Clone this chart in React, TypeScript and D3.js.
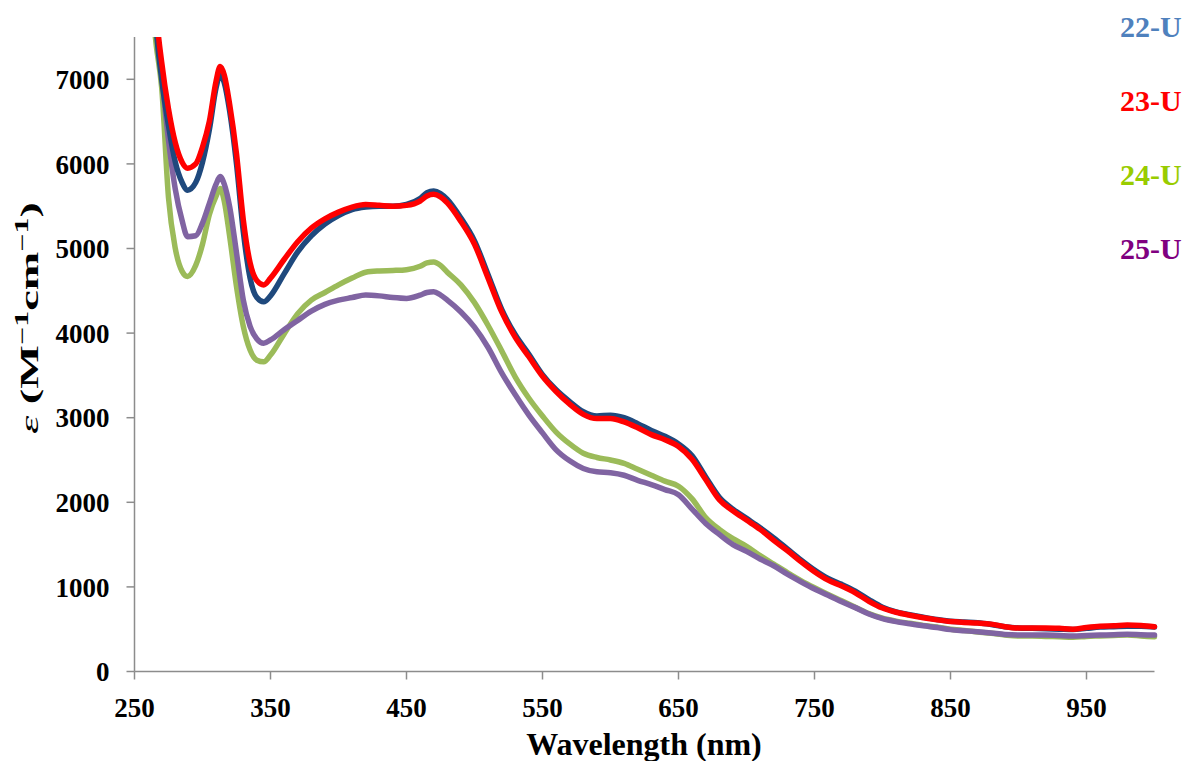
import React from "react";
import * as d3 from "d3";

// ---------- data ----------
const wavelengths = [
  262, 266, 270, 275, 280, 285, 289, 295, 300, 305, 310, 313, 316, 320, 325, 330, 335, 340, 345, 350,
  360, 370, 380, 390, 400, 410, 420, 430, 440, 450, 460,
  465, 470, 475,
  480, 490, 500, 510, 520, 530, 540, 550, 560, 570, 580, 590, 600, 610, 620, 630, 640, 650, 660, 670,
  680, 690, 700, 710, 720, 730, 740, 750, 760, 770, 780, 790, 800, 810, 820, 830, 840, 850, 860, 870,
  880, 890, 900, 910, 920, 930, 940, 950, 960, 970, 980, 990, 1000,
];

const s22U = [
  8800, 7600, 7000, 6450, 6020, 5780, 5690, 5780, 6020, 6400, 6900, 7060, 6960, 6620, 6000, 5200, 4650, 4420, 4370, 4440,
  4700, 4960, 5150, 5290, 5390, 5460, 5490, 5500, 5500, 5520, 5590,
  5660, 5680, 5650,
  5580, 5360, 5090, 4690, 4280, 3980, 3750, 3510, 3330, 3190, 3070, 3020, 3030, 3000, 2930, 2850, 2780, 2690, 2550, 2300,
  2060, 1920, 1810, 1700, 1580, 1450, 1320, 1200, 1100, 1030, 950, 850, 760, 705, 672, 642, 615, 595, 585, 575,
  555, 530, 515, 510, 505, 500, 495, 510, 525, 530, 535, 535, 525,
];

const s23U = [
  9000, 7800, 7200, 6650, 6250, 6020, 5950, 6000, 6200, 6500, 6980, 7150, 7050, 6700, 6120, 5340, 4830, 4620, 4570, 4650,
  4870, 5080, 5240, 5350, 5430, 5490, 5520, 5510, 5500, 5510, 5560,
  5620, 5640, 5610,
  5540, 5320, 5050, 4650, 4250, 3950, 3720, 3490, 3310, 3160, 3040, 2990, 2990, 2950, 2880, 2800, 2740, 2660, 2510, 2270,
  2030, 1900, 1790, 1680, 1550, 1430, 1300, 1180, 1080, 1010, 930, 830, 750, 700, 665, 635, 610, 590, 580, 573,
  560, 530, 515, 515, 515, 510, 500, 520, 535, 540, 550, 545, 530,
];

const s24U = [
  8000, 7400, 6900, 5600, 5000, 4730, 4670, 4800, 5050, 5400, 5620, 5710, 5560, 5140, 4550, 4080, 3800, 3680, 3660, 3740,
  3990, 4230, 4390, 4480, 4570, 4650, 4720, 4735, 4740, 4750, 4790,
  4830, 4840, 4800,
  4720, 4570, 4360, 4090, 3790, 3480, 3230, 3020, 2830, 2690, 2580, 2530, 2500, 2460, 2390, 2320, 2250, 2190, 2040, 1820,
  1680, 1570, 1480, 1370, 1270, 1170, 1075, 990, 910, 835, 760, 685, 630, 595, 570, 545, 525, 500, 485, 468,
  452, 432, 420, 420, 415, 410, 405, 415, 420, 425, 430, 420, 410,
];

const s25U = [
  8600, 7700, 7050, 6280, 5700, 5330, 5140, 5150, 5300, 5530, 5760, 5850, 5760, 5490, 4950, 4390, 4080, 3930, 3880, 3920,
  4040, 4150, 4260, 4340, 4390, 4420, 4450, 4440, 4420, 4410, 4450,
  4480, 4490, 4450,
  4390, 4250, 4070, 3830, 3530, 3270, 3030, 2820, 2620, 2490, 2400, 2360, 2350, 2320, 2260, 2210, 2150, 2090, 1920, 1750,
  1620, 1500, 1420, 1330, 1250, 1150, 1060, 975, 900, 825, 755, 680, 625, 590, 565, 540, 520, 495, 482, 470,
  455, 438, 432, 432, 430, 425, 420, 425, 430, 435, 440, 435, 430,
];

const seriesNames = ["22-U", "23-U", "24-U", "25-U"];
const lineColors = ["#1F497D", "#FF0000", "#9BBB59", "#8064A2"];
const legendColors = ["#4F81BD", "#FF0000", "#99CC00", "#800080"];
const xTicks = [250, 350, 450, 550, 650, 750, 850, 950];
const yTicks = [0, 1000, 2000, 3000, 4000, 5000, 6000, 7000];

// ---------- layout ----------
const W = 1187;
const H = 761;
const left = 134.5;
const right = 1154.5;
const top = 37;
const bottom = 671.5;
const FONT = "'Liberation Serif', 'Times New Roman', serif";
const AXIS = "#8C8C8C";

export default function App() {
  const x = d3.scaleLinear().domain([250, 1000]).range([left, right]);
  const y = d3.scaleLinear().domain([0, 7500]).range([bottom, top]);

  const allSeries = [s22U, s23U, s24U, s25U];
  const line = d3
    .line<number>()
    .x((_, i) => x(wavelengths[i]))
    .y((d) => y(d))
    .curve(d3.curveMonotoneX);

  const drawOrder = [2, 3, 0, 1];

  return (
    <svg
      width={W}
      height={H}
      style={{ position: "absolute", left: 0, top: 0, background: "#fff" }}
      fontFamily={FONT}
    >
      <defs>
        <clipPath id="plotClip">
          <rect x={left} y={top} width={right - left + 10} height={bottom - top} />
        </clipPath>
      </defs>

      {/* axes */}
      <line x1={left} x2={left} y1={top} y2={bottom} stroke={AXIS} strokeWidth={1.5} />
      <line x1={left} x2={right} y1={bottom} y2={bottom} stroke={AXIS} strokeWidth={1.5} />
      {yTicks.map((t) => (
        <g key={"y" + t}>
          <line x1={left - 8} x2={left} y1={y(t)} y2={y(t)} stroke={AXIS} strokeWidth={1.5} />
          <text
            x={109.5}
            y={y(t)}
            dy="0.36em"
            textAnchor="end"
            fontSize={27}
            fontWeight="bold"
            fill="#000"
          >
            {t}
          </text>
        </g>
      ))}
      {xTicks.map((t) => (
        <g key={"x" + t}>
          <line x1={x(t)} x2={x(t)} y1={bottom} y2={bottom + 8} stroke={AXIS} strokeWidth={1.5} />
          <text x={x(t)} y={717} textAnchor="middle" fontSize={27} fontWeight="bold" fill="#000">
            {t}
          </text>
        </g>
      ))}

      {/* series */}
      <g clipPath="url(#plotClip)">
        {drawOrder.map((i) => (
          <path
            key={seriesNames[i]}
            d={line(allSeries[i]) || ""}
            fill="none"
            stroke={lineColors[i]}
            strokeWidth={5.5}
            strokeLinejoin="round"
            strokeLinecap="round"
          />
        ))}
      </g>

      {/* axis titles */}
      <text x={644} y={755} textAnchor="middle" fontSize={32} fontWeight="bold" fill="#000">
        Wavelength (nm)
      </text>
      <text
        transform="translate(38,318) rotate(-90)"
        textAnchor="middle"
        fontSize={26}
        fontWeight="bold"
        fill="#000"
        textLength={232}
        lengthAdjust="spacingAndGlyphs"
      >
        <tspan fontStyle="italic" fontWeight="normal">ε</tspan>
        <tspan> (M</tspan>
        <tspan fontSize={18} dy={-10}>−1</tspan>
        <tspan dy={10}>cm</tspan>
        <tspan fontSize={18} dy={-10}>−1</tspan>
        <tspan dy={10}>)</tspan>
      </text>

      {/* legend labels */}
      {seriesNames.map((n, i) => (
        <text
          key={"lg" + n}
          x={1120}
          y={37 + i * 74}
          fontSize={30}
          fontWeight="bold"
          fill={legendColors[i]}
        >
          {n}
        </text>
      ))}
    </svg>
  );
}
